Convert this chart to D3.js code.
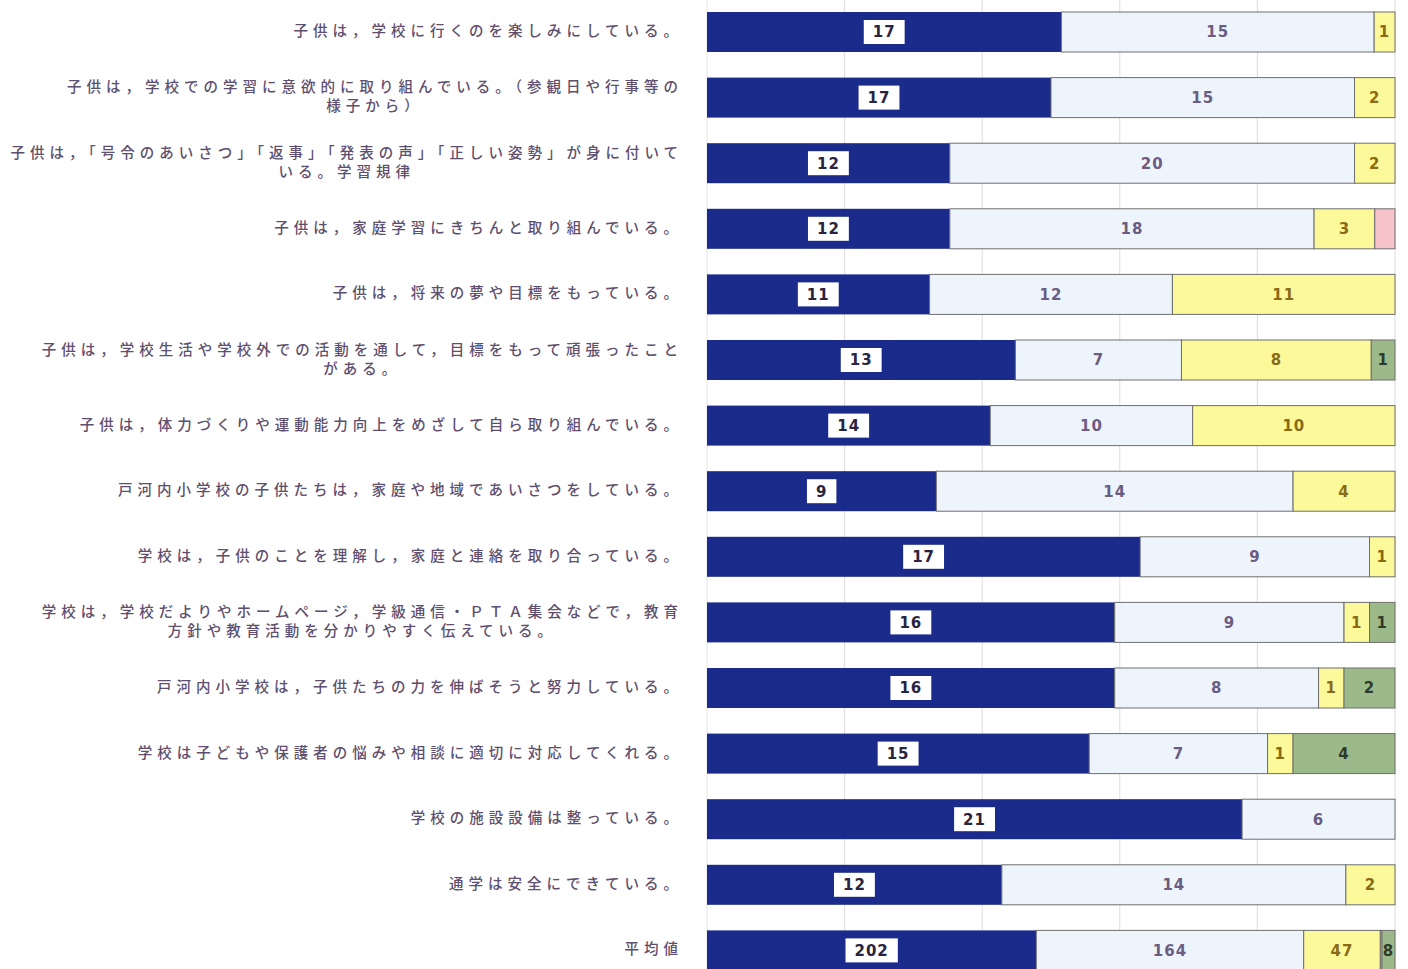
<!DOCTYPE html>
<html>
<head>
<meta charset="utf-8">
<script src="https://cdn.jsdelivr.net/npm/d3@7"></script>
<style>
  body { margin: 0; background: #fff; }
  svg { display: block; }
  .qlabel { font-family: "Noto Sans CJK JP", sans-serif; font-size: 14.5px; font-weight: 500; fill: #5e4f6e; letter-spacing: 5px; }
  .val { font-family: "DejaVu Sans", sans-serif; font-size: 15px; font-weight: bold; letter-spacing: 1px; }
</style>
</head>
<body>
<div id="chart"></div>
<script>
// questions (each entry = lines of the label)
var questions = [
    ["子供は，学校に行くのを楽しみにしている。"],
    ["子供は，学校での学習に意欲的に取り組んでいる。（参観日や行事等の", "様子から）"],
    ["子供は，「号令のあいさつ」「返事」「発表の声」「正しい姿勢」が身に付いて", "いる。学習規律"],
    ["子供は，家庭学習にきちんと取り組んでいる。"],
    ["子供は，将来の夢や目標をもっている。"],
    ["子供は，学校生活や学校外での活動を通して，目標をもって頑張ったこと", "がある。"],
    ["子供は，体力づくりや運動能力向上をめざして自ら取り組んでいる。"],
    ["戸河内小学校の子供たちは，家庭や地域であいさつをしている。"],
    ["学校は，子供のことを理解し，家庭と連絡を取り合っている。"],
    ["学校は，学校だよりやホームページ，学級通信・ＰＴＡ集会などで，教育", "方針や教育活動を分かりやすく伝えている。"],
    ["戸河内小学校は，子供たちの力を伸ばそうと努力している。"],
    ["学校は子どもや保護者の悩みや相談に適切に対応してくれる。"],
    ["学校の施設設備は整っている。"],
    ["通学は安全にできている。"],
    ["平均値"]
];

// series values
var s1 = [17, 17, 12, 12, 11, 13, 14, 9, 17, 16, 16, 15, 21, 12, 202];
var s2 = [15, 15, 20, 18, 12, 7, 10, 14, 9, 9, 8, 7, 6, 14, 164];
var s3 = [1, 2, 2, 3, 11, 8, 10, 4, 1, 1, 1, 1, 0, 2, 47];
var s4 = [0, 0, 0, 1, 0, 0, 0, 0, 0, 0, 0, 0, 0, 0, 1];
var s5 = [0, 0, 0, 0, 0, 1, 0, 0, 0, 1, 2, 4, 0, 0, 8];

var seriesKeys = ["s1", "s2", "s3", "s4", "s5"];
var fills = {s1: "#1b2b8c", s2: "#eef4fc", s3: "#fcf99a", s4: "#f6c3ca", s5: "#9cb98a"};
var textFill = {s1: "#2a2440", s2: "#6b5c82", s3: "#8a6a16", s4: "#333", s5: "#2f3a2a"};
var showLabel = {s1: true, s2: true, s3: true, s4: false, s5: true};

var W = 1408, H = 969;

var table = questions.map(function(q, i) {
    return {id: i, lines: q, s1: s1[i], s2: s2[i], s3: s3[i], s4: s4[i], s5: s5[i]};
});

var stacked = d3.stack().keys(seriesKeys).offset(d3.stackOffsetExpand)(table);

var x = d3.scaleLinear().domain([0, 1]).range([707, 1395]);
var y = d3.scaleBand().domain(d3.range(questions.length))
    .range([-0.8, 983.2]).paddingInner(0.39).paddingOuter(0.195);

var svg = d3.select("#chart").append("svg")
    .attr("width", W)
    .attr("height", H);

// gridlines
svg.append("g")
    .selectAll("line")
    .data([0, 0.2, 0.4, 0.6, 0.8, 1])
    .enter().append("line")
    .attr("x1", function(d) { return x(d); })
    .attr("x2", function(d) { return x(d); })
    .attr("y1", 0)
    .attr("y2", H)
    .attr("stroke", function(d) { return d == 0 ? "#e4e4e4" : "#dcdcdc"; })
    .attr("stroke-width", 1);

// bars
var layers = svg.append("g").selectAll("g")
    .data(stacked)
    .enter().append("g")
    .attr("fill", function(d) { return fills[d.key]; });

layers.selectAll("rect")
    .data(function(d) { return d.map(function(p) { p.key = d.key; return p; }); })
    .enter().append("rect")
    .attr("x", function(d) { return x(d[0]); })
    .attr("y", function(d, i) { return y(i); })
    .attr("width", function(d) { return Math.max(0, x(d[1]) - x(d[0])); })
    .attr("height", y.bandwidth())
    .attr("stroke", function(d) { return d.key == "s1" ? "none" : "#6e6e6e"; })
    .attr("stroke-width", function(d) { return (d[1] - d[0]) > 0 ? 1 : 0; });

// value labels
seriesKeys.forEach(function(k, si) {
    var g = svg.append("g");
    stacked[si].forEach(function(d, i) {
        var v = d.data[k];
        if (!v || !showLabel[k]) return;
        var cx = (x(d[0]) + x(d[1])) / 2,
            cy = y(i) + y.bandwidth() / 2;
        var t = g.append("text")
            .attr("class", "val")
            .attr("x", cx)
            .attr("y", cy)
            .attr("dy", "0.36em")
            .attr("text-anchor", "middle")
            .attr("fill", textFill[k])
            .text(v);
        if (k == "s1") {
            var bw = t.node().getComputedTextLength() + 18;
            g.insert("rect", "text")
                .attr("x", cx - bw / 2)
                .attr("y", cy - 12)
                .attr("width", bw)
                .attr("height", 24)
                .attr("fill", "#fff");
        }
    });
});

// question labels
var labelRight = 683, lineH = 19;
var lab = svg.append("g").selectAll("g")
    .data(table)
    .enter().append("g");

lab.each(function(d, i) {
    var g = d3.select(this);
    var cy = y(i) + y.bandwidth() / 2;
    var texts = d.lines.map(function(line, j) {
        return g.append("text")
            .attr("class", "qlabel")
            .attr("y", cy + (j - (d.lines.length - 1) / 2) * lineH - 1)
            .attr("dy", "0.35em")
            .text(line);
    });
    var maxW = d3.max(texts, function(t) { return t.node().getComputedTextLength(); });
    texts.forEach(function(t) {
        t.attr("x", labelRight - maxW / 2).attr("text-anchor", "middle");
    });
});
</script>
</body>
</html>
